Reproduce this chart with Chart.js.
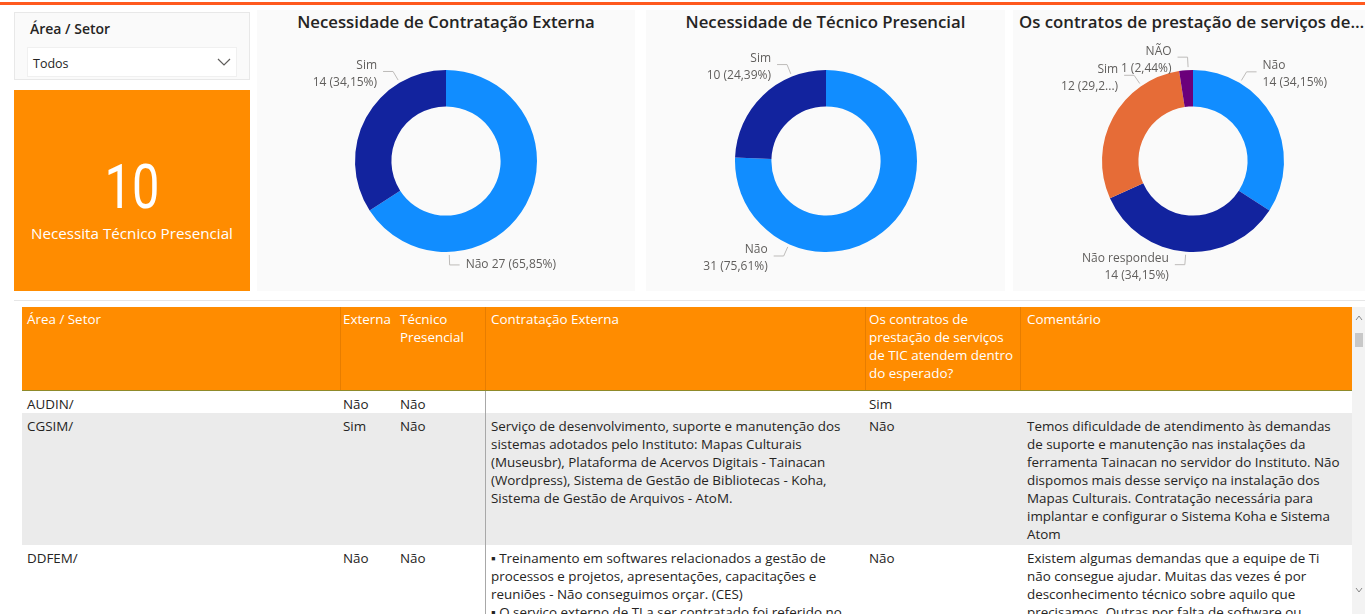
<!DOCTYPE html>
<html><head><meta charset="utf-8">
<script src="https://cdn.jsdelivr.net/npm/chart.js@4.4.1/dist/chart.umd.min.js"></script>
<style>
html,body{margin:0;padding:0;background:#fff;width:1365px;height:614px;overflow:hidden;font-family:"Open Sans",sans-serif;color:#252423}
.abs{position:absolute}
#topline{left:0;top:2px;width:1365px;height:3px;background:#FF5A1F}
.panel{background:#FAFAFA}
#slicer{left:14px;top:12px;width:234px;height:66px;border:1px solid #E8E8E8;background:#FAFAFA}
#slicerTitle{left:30px;top:19px;font-size:14px;font-weight:600;color:#252423}
#dropdown{left:27px;top:47px;width:210px;height:30px;background:#fff;border:1px solid #F0F0F0;box-sizing:border-box}
#dropText{left:33px;top:55px;font-size:12.5px;color:#252423}
#card{left:14px;top:90px;width:236px;height:201px;background:#FF8C00;color:#fff;text-align:center}
#cardVal{left:0;width:236px;top:57px;font-family:Roboto,sans-serif;font-weight:400;font-size:61px;line-height:80px;transform:scaleX(0.8)}
#cardLbl{left:0;width:236px;top:133px;font-size:15.2px;line-height:20px}
.title{top:10px;font-size:16.8px;font-weight:600;color:#252423;white-space:nowrap;overflow:hidden;text-overflow:ellipsis;line-height:24px}
canvas{position:absolute}
#tablePanel{left:14px;top:300px;width:1351px;height:314px;background:#fff;border-top:1px solid #E6E6E6}
#hdr{left:22px;top:307px;width:1330px;height:84px;background:#FF8C00;border-bottom:1px solid #8F8A2A;box-sizing:border-box}
.cell{position:absolute;font-size:13.4px;line-height:18px;white-space:nowrap}
.hcell{color:#fff}
.vsep{position:absolute;width:1px}
#scroll{left:1352px;top:307px;width:13px;height:307px;background:#F3F3F3}
</style></head>
<body>
<div id="topline" class="abs"></div>
<div id="slicer" class="abs"></div>
<div id="slicerTitle" class="abs">Área / Setor</div>
<div id="dropdown" class="abs"></div>
<div id="dropText" class="abs">Todos</div>
<svg class="abs" style="left:217px;top:58px" width="14" height="9"><polyline points="1,1 7,7 13,1" fill="none" stroke="#605E5C" stroke-width="1.2"/></svg>
<div id="card" class="abs"><div id="cardVal" class="abs"></div><div id="cardLbl" class="abs">Necessita Técnico Presencial</div></div>

<div class="abs panel" style="left:257px;top:10px;width:378px;height:281px"></div>
<div class="abs panel" style="left:646px;top:10px;width:359px;height:281px"></div>
<div class="abs panel" style="left:1013px;top:10px;width:352px;height:281px"></div>
<div class="abs title" style="left:257px;width:378px;text-align:center">Necessidade de Contratação Externa</div>
<div class="abs title" style="left:646px;width:359px;text-align:center">Necessidade de Técnico Presencial</div>
<div class="abs title" style="left:1019px;width:346px;text-align:left">Os contratos de prestação de serviços de TIC atendem dentro do esperado?</div>

<canvas id="c1" width="378" height="242" style="left:257px;top:40px"></canvas>
<canvas id="c2" width="360" height="242" style="left:646px;top:40px"></canvas>
<canvas id="c3" width="344" height="242" style="left:1021px;top:40px"></canvas>

<div id="tablePanel" class="abs"></div>
<div id="hdr" class="abs"></div>
<div id="tbl"></div>
<div id="scroll" class="abs"></div>
<svg class="abs" style="left:1354px;top:314px" width="10" height="8"><polyline points="2,6 5,2 8,6" fill="none" stroke="#888" stroke-width="1"/></svg>
<div class="abs" style="left:1355px;top:333px;width:8px;height:14px;background:#C8C8C8"></div>
<svg class="abs" style="left:1354px;top:586px" width="10" height="8"><polyline points="2,2 5,6 8,2" fill="none" stroke="#888" stroke-width="1"/></svg>

<script>
// ---- Data ----
const extCategories = ['Não', 'Sim'];
const extValues = [27, 14];
const tecCategories = ['Não', 'Sim'];
const tecValues = [31, 10];
const contCategories = ['Não', 'Não respondeu', 'Sim', 'NÃO'];
const contValues = [14, 14, 12, 1];

const tableColumns = ['Área / Setor', 'Externa', 'Técnico\nPresencial', 'Contratação Externa',
  'Os contratos de\nprestação de serviços\nde TIC atendem dentro\ndo esperado?', 'Comentário'];
const tableAreas = ['AUDIN/', 'CGSIM/', 'DDFEM/'];
const tableExterna = ['Não', 'Sim', 'Não'];
const tableTecnico = ['Não', 'Não', 'Não'];
const tableContratacao = [
  '',
  'Serviço de desenvolvimento, suporte e manutenção dos\nsistemas adotados pelo Instituto: Mapas Culturais\n(Museusbr), Plataforma de Acervos Digitais - Tainacan\n(Wordpress), Sistema de Gestão de Bibliotecas - Koha,\nSistema de Gestão de Arquivos - AtoM.',
  '▪ Treinamento em softwares relacionados a gestão de\nprocessos e projetos, apresentações, capacitações e\nreuniões - Não conseguimos orçar. (CES)\n▪ O serviço externo de TI a ser contratado foi referido no'
];
const tableContratos = ['Sim', 'Não', 'Não'];
const tableComentario = [
  '',
  'Temos dificuldade de atendimento às demandas\nde suporte e manutenção nas instalações da\nferramenta Tainacan no servidor do Instituto. Não\ndispomos mais desse serviço na instalação dos\nMapas Culturais. Contratação necessária para\nimplantar e configurar o Sistema Koha e Sistema\nAtom',
  'Existem algumas demandas que a equipe de Ti\nnão consegue ajudar. Muitas das vezes é por\ndesconhecimento técnico sobre aquilo que\nprecisamos. Outras por falta de software ou'
];

// ---- Styles ----
const catColors = {'Não':'#118DFF','Sim':'#12239E','Não respondeu':'#12239E','NÃO':'#6B007B'};
const contColors = ['#118DFF','#12239E','#E66C37','#6B007B'];

// card value derived from data
document.getElementById('cardVal').textContent = tecValues[tecCategories.indexOf('Sim')];

// ---- Table ----
(function(){
  const colX = [22,340,395,485,865,1020,1352];
  const colPad = [5,3,5,6,4,7];
  const rowY = [391,413,545,640];
  const rowBg = ['#FFFFFF','#EBEBEB','#FFFFFF'];
  const tbl = document.getElementById('tbl');
  function add(html){ tbl.insertAdjacentHTML('beforeend', html); }
  for (let r=0;r<3;r++){
    add(`<div class="abs" style="left:22px;top:${rowY[r]}px;width:1330px;height:${rowY[r+1]-rowY[r]}px;background:${rowBg[r]}"></div>`);
  }
  [340,485,865,1020].forEach(x=>add(`<div class="vsep" style="left:${x}px;top:307px;height:83px;background:rgba(120,60,0,0.18)"></div>`));
  add(`<div class="vsep" style="left:485px;top:391px;height:223px;background:#A8A8A8"></div>`);
  const esc = s => s.replace(/&/g,'&amp;').replace(/</g,'&lt;').replace(/\n/g,'<br>');
  tableColumns.forEach((t,i)=>{
    add(`<div class="cell hcell" style="left:${colX[i]+colPad[i]}px;top:310px">${esc(t)}</div>`);
  });
  const cols = [tableAreas, tableExterna, tableTecnico, tableContratacao, tableContratos, tableComentario];
  for (let r=0;r<3;r++){
    cols.forEach((col,i)=>{
      add(`<div class="cell" style="left:${colX[i]+colPad[i]}px;top:${rowY[r]+4}px">${esc(col[r])}</div>`);
    });
  }
})();

// ---- Donut label plugin (Power BI style leader lines) ----
function fmtPct(v){ return v.toFixed(2).replace('.', ',') + '%'; }
const pbiLabels = {
  id: 'pbiLabels',
  afterDatasetsDraw(chart, args, opts) {
    const ctx = chart.ctx;
    const meta = chart.getDatasetMeta(0);
    const data = chart.data.datasets[0].data;
    const labels = chart.data.labels;
    const total = data.reduce((a,b)=>a+b,0);
    ctx.save();
    ctx.font = opts.font;
    meta.data.forEach((arc, i) => {
      const it = opts.items[i];
      if (!it) return;
      const p = arc.getProps(['x','y','outerRadius'], true);
      const a = it.angle * Math.PI / 180;
      const ax = p.x + (p.outerRadius + 3) * Math.sin(a);
      const ay = p.y - (p.outerRadius + 3) * Math.cos(a);
      const ex = p.x + (p.outerRadius + 13) * Math.sin(a);
      const ey = p.y - (p.outerRadius + 13) * Math.cos(a);
      const dir = it.side === 'left' ? -1 : 1;
      const hx = ex + dir * 10;
      ctx.strokeStyle = opts.lineColor; ctx.lineWidth = 1;
      ctx.beginPath(); ctx.moveTo(ax, ay); ctx.lineTo(ex, ey); ctx.lineTo(hx, ey); ctx.stroke();
      let pct = fmtPct(data[i] / total * 100);
      if (it.pctChars) pct = pct.slice(0, it.pctChars) + '...';
      const val = `${data[i]} (${pct})`;
      const lines = it.oneLine ? [`${labels[i]} ${val}`] : [labels[i], val];
      ctx.fillStyle = opts.color;
      ctx.textBaseline = 'middle';
      ctx.textAlign = dir < 0 ? 'right' : 'left';
      const tx = hx + dir * 6;
      if (lines.length === 1) ctx.fillText(lines[0], tx, ey);
      else { ctx.fillText(lines[0], tx, ey - 6); ctx.fillText(lines[1], tx, ey + 11); }
    });
    ctx.restore();
  }
};

function donut(id, cats, vals, colors, items, padLeft) {
  return new Chart(document.getElementById(id), {
    type: 'doughnut',
    data: { labels: cats, datasets: [{ data: vals, backgroundColor: colors, borderWidth: 0 }] },
    options: {
      responsive: false, animation: false, cutout: '60%',
      layout: { padding: { top: 30, bottom: 30, left: padLeft || 0 } },
      plugins: {
        legend: { display: false }, tooltip: { enabled: false },
        pbiLabels: { items, font: '12px "Open Sans"', color: '#605E5C', lineColor: '#BDBBB9' }
      }
    },
    plugins: [pbiLabels]
  });
}

function draw(){
  donut('c1', extCategories, extValues, extCategories.map(c=>catColors[c]),
    [{angle:178, side:'right', oneLine:true}, {angle:-30.6, side:'left'}]);
  donut('c2', tecCategories, tecValues, tecCategories.map(c=>catColors[c]),
    [{angle:204, side:'left'}, {angle:-22, side:'left'}]);
  donut('c3', contCategories, contValues, contColors,
    [{angle:31, side:'right'}, {angle:184.5, side:'left'}, {angle:-34.5, side:'left', pctChars:4}, {angle:-3, side:'left'}]);
}
if (document.fonts && document.fonts.load) {
  Promise.all([document.fonts.load('12px "Open Sans"')]).then(draw, draw);
} else draw();
</script>
</body></html>
